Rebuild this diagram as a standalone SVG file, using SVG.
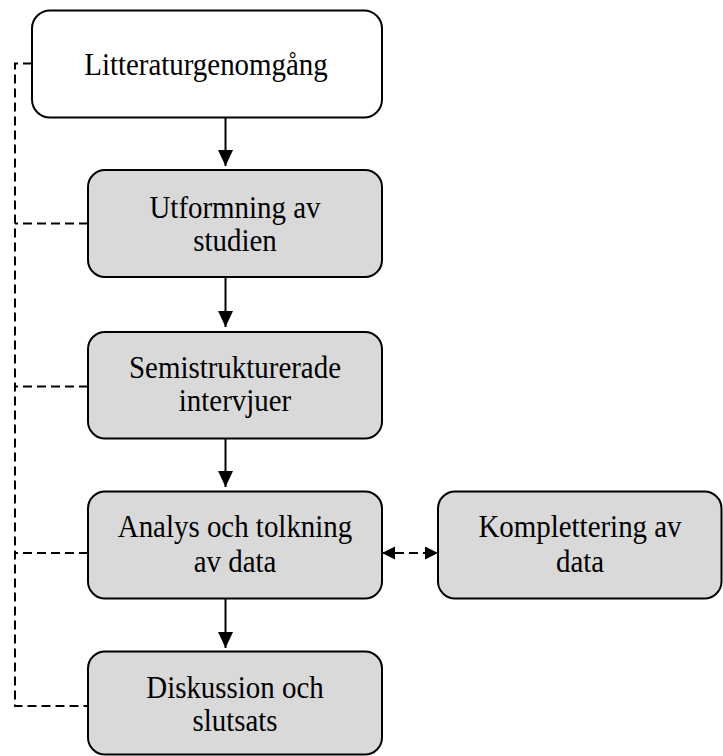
<svg xmlns="http://www.w3.org/2000/svg" width="723" height="756" viewBox="0 0 723 756">
<style>
.box{stroke:#000;stroke-width:2;}
.w{fill:#fff;}
.g{fill:#d9d9d9;}
.t{font-family:"Liberation Serif","Times New Roman",serif;font-size:32.5px;fill:#000;text-anchor:middle;}
.solid{stroke:#000;stroke-width:2;fill:none;}
.dash{stroke:#000;stroke-width:2;fill:none;stroke-dasharray:9 5;}
</style>
<defs>
<marker id="ah" markerUnits="userSpaceOnUse" markerWidth="16" markerHeight="16" refX="16" refY="7.5" orient="auto">
<path d="M0,0 L16,7.5 L0,15 Z" fill="#000"/>
</marker>
<marker id="ahs" markerUnits="userSpaceOnUse" markerWidth="14" markerHeight="14" refX="13" refY="6.5" orient="auto-start-reverse">
<path d="M0,0 L13,6.5 L0,13 Z" fill="#000"/>
</marker>
</defs>
<g id="connectors">
<path class="dash" d="M32,63.5 H15 V706 H88"/>
<path class="dash" d="M88,223.5 H15"/>
<path class="dash" d="M88,386.5 H15"/>
<path class="dash" d="M88,553 H15"/>
<line class="solid" x1="225.5" y1="117.5" x2="225.5" y2="166" marker-end="url(#ah)"/>
<line class="solid" x1="225.5" y1="277" x2="225.5" y2="327" marker-end="url(#ah)"/>
<line class="solid" x1="225.5" y1="438.5" x2="225.5" y2="487" marker-end="url(#ah)"/>
<line class="solid" x1="225.5" y1="598.5" x2="225.5" y2="648" marker-end="url(#ah)"/>
<line class="dash" x1="382" y1="553" x2="438" y2="553" stroke-dasharray="9 5" stroke-dashoffset="-13" marker-start="url(#ahs)" marker-end="url(#ahs)"/>
</g>
<g id="n1">
<rect class="box w" x="32" y="10.5" width="350" height="107" rx="18"/>
<text class="t" transform="translate(206 0) scale(0.89 1)" x="0" y="75">Litteraturgenomgång</text>
</g>
<g id="n2">
<rect class="box g" x="88" y="170" width="294" height="107" rx="17"/>
<text class="t" transform="translate(235 0) scale(0.89 1)"><tspan x="0" y="218">Utformning av</tspan><tspan x="0" y="251">studien</tspan></text>
</g>
<g id="n3">
<rect class="box g" x="88" y="332" width="294" height="106.5" rx="17"/>
<text class="t" transform="translate(235 0) scale(0.89 1)"><tspan x="0" y="378">Semistrukturerade</tspan><tspan x="0" y="411">intervjuer</tspan></text>
</g>
<g id="n4">
<rect class="box g" x="88" y="491.5" width="294" height="107" rx="17"/>
<text class="t" transform="translate(235 0) scale(0.89 1)"><tspan x="0" y="537">Analys och tolkning</tspan><tspan x="0" y="572">av data</tspan></text>
</g>
<g id="n5">
<rect class="box g" x="438" y="491.5" width="283.5" height="107" rx="17"/>
<text class="t" transform="translate(580 0) scale(0.89 1)"><tspan x="0" y="537">Komplettering av</tspan><tspan x="0" y="572">data</tspan></text>
</g>
<g id="n6">
<rect class="box g" x="88" y="651.5" width="294" height="103" rx="17"/>
<text class="t" transform="translate(235 0) scale(0.89 1)"><tspan x="0" y="698">Diskussion och</tspan><tspan x="0" y="731.5">slutsats</tspan></text>
</g>
</svg>
